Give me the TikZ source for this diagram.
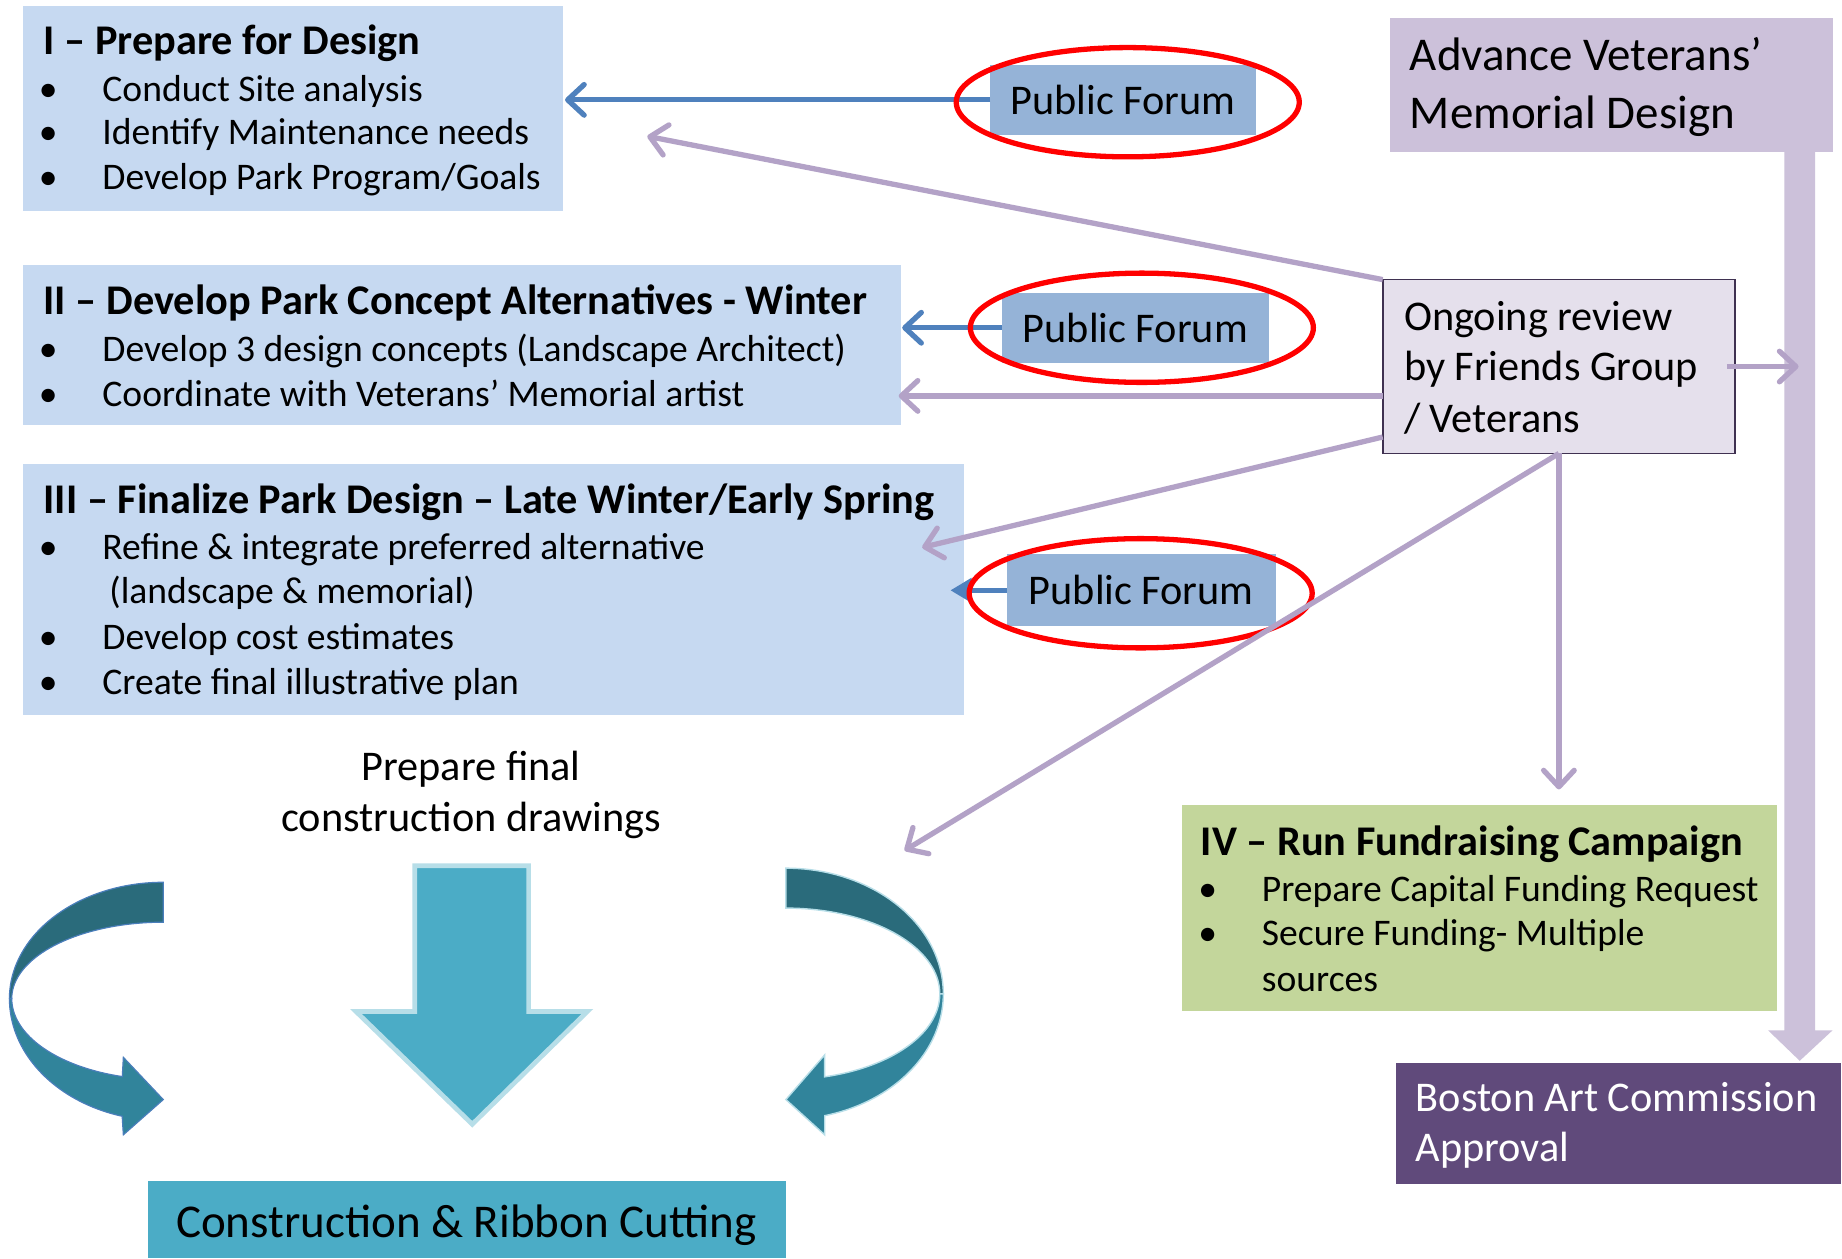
\documentclass[tikz,border=0pt]{standalone}
\usepackage{fontspec}
\setmainfont{Carlito}
\usetikzlibrary{arrows.meta,shapes.geometric,calc}
\definecolor{boxblue}{HTML}{C6D9F1}
\definecolor{pfblue}{HTML}{95B3D7}
\definecolor{lineblue}{HTML}{4F81BD}
\definecolor{lavender}{HTML}{CCC1DA}
\definecolor{lilac}{HTML}{E5E0EC}
\definecolor{lilacborder}{HTML}{3F3151}
\definecolor{purpline}{HTML}{B3A2C7}
\definecolor{greenbox}{HTML}{C3D69B}
\definecolor{bacpurple}{HTML}{604A7B}
\definecolor{cteal}{HTML}{4BACC6}
\definecolor{ctealborder}{HTML}{B7DEE8}
\definecolor{ctealdark}{HTML}{2A6B7B}
\definecolor{ctealmid}{HTML}{31849B}
\definecolor{leftoutline}{HTML}{4A7EBB}
\begin{document}
\begin{tikzpicture}[x=1pt,y=-1pt,
  box/.style={rectangle,inner sep=0pt,outer sep=0pt,anchor=north west},
  ttl/.style={anchor=base west,inner sep=0pt,font=\fontsize{36}{43}\selectfont\bfseries},
  txt/.style={anchor=base west,inner sep=0pt,font=\fontsize{32}{38}\selectfont},
  bul/.style={anchor=base,inner sep=0pt,font=\fontsize{32}{38}\selectfont},
  big/.style={anchor=base west,inner sep=0pt,font=\fontsize{36}{43}\selectfont},
  huge/.style={anchor=base west,inner sep=0pt,font=\fontsize{40}{48}\selectfont},
  ring/.style={ellipse,draw=red,line width=4.5pt,minimum width=292pt,minimum height=93pt,inner sep=0pt},
  pf/.style={box,fill=pfblue,font=\fontsize{36}{43}\selectfont,align=center},
  fb/.style={line width=4.5pt,draw=purpline,-{Straight Barb[length=14pt,width=26pt,round]}},
  bl/.style={line width=4.5pt,draw=lineblue,-{Straight Barb[length=14pt,width=26pt,round]}},
]
\useasboundingbox (0,0) rectangle (1568,1071);
\fill[white] (0,0) rectangle (1568,1071);

% ---------- boxes ----------
\node[box,fill=boxblue,minimum width=459pt,minimum height=175pt] (B1) at (20,5) {};
\node[box,fill=boxblue,minimum width=747pt,minimum height=136pt] (B2) at (20,226) {};
\node[box,fill=boxblue,minimum width=801pt,minimum height=214pt] (B3) at (20,395) {};
\node[box,fill=lavender,minimum width=377pt,minimum height=114pt] (AV) at (1183,15) {};
\node[box,fill=lilac,draw=lilacborder,line width=1.5pt,minimum width=300pt,minimum height=148pt] (OG) at (1177,238) {};
\node[box,fill=greenbox,minimum width=507pt,minimum height=176pt] (B4) at (1006,685) {};
\node[box,fill=bacpurple,minimum width=379pt,minimum height=103pt] (BAC) at (1188,905) {};
\node[box,fill=cteal,minimum width=543pt,minimum height=66pt] (CR) at (126,1005) {};
\node[pf,minimum width=226pt,minimum height=60pt] (PF1) at (843,55) {Public Forum};
\node[pf,minimum width=227pt,minimum height=60pt] (PF2) at (853,249) {Public Forum};
\node[pf,minimum width=229pt,minimum height=61pt] (PF3) at (857,472) {Public Forum};

% ---------- thick bar from Advance box to BAC ----------
\coordinate (bt) at ([xshift=-28pt]AV.south east);
\coordinate (bb) at (bt |- BAC.north);
\fill[lavender] ($(bt)+(-13,0)$) -- ($(bt)+(13,0)$) -- ($(bb)+(13,-28)$) -- ($(bb)+(28,-28)$)
  -- ($(bb)+(0,-2)$) -- ($(bb)+(-27,-28)$) -- ($(bb)+(-13,-28)$) -- cycle;

% ---------- blue connectors from public forums ----------
\coordinate (e1) at (PF1.west -| B1.east);
\draw[bl] (PF1.west) -- ([xshift=2pt]e1);
\coordinate (e2b) at (PF2.west -| B2.east);
\draw[bl] (PF2.west) -- ([xshift=1pt]e2b);
\coordinate (e3b) at (PF3.west -| B3.east);
\draw[line width=4.5pt,draw=lineblue,-{Triangle[length=18pt,width=20pt]}] (PF3.west) -- ([xshift=-12pt]e3b);

% ---------- red rings ----------
\node[ring] (R1) at (960,87) {};
\node[ring] (R2) at (972,279) {};
\node[ring] (R3) at (971,505) {};

% ---------- purple connectors from ongoing review ----------
\coordinate (t1) at (551,116);
\draw[fb] (OG.north west) -- (t1);
\coordinate (s2) at ([yshift=-25pt]OG.west);
\coordinate (e2) at (s2 -| B2.east);
\draw[fb] (s2) -- ([xshift=-2pt]e2);
\coordinate (s3) at ([yshift=-60pt]OG.west);
\coordinate (t3) at (785,466);
\draw[fb] (s3) -- (t3);
\coordinate (t4) at (770,724);
\draw[fb] (OG.south) -- (t4);
\coordinate (e5) at (OG.south |- B4.north);
\draw[fb] (OG.south) -- ([yshift=13pt]e5);
\coordinate (e6) at (bt |- OG.east);
\draw[fb] ([xshift=-7pt]OG.east) -- ([xshift=-1pt]e6);

% ---------- texts ----------
\node[ttl] (h1) at (37,46) {I – Prepare for Design};
\node[bul] (d11) at (41,86) {•};  \node[txt] (l11) at (87,86) {Conduct Site analysis};
\node[bul] (d12) at (41,123) {•}; \node[txt] (l12) at (87,123) {Identify Maintenance needs};
\node[bul] (d13) at (41,161) {•}; \node[txt] (l13) at (87,161) {Develop Park Program/Goals};

\node[ttl] (h2) at (37,268) {II – Develop Park Concept Alternatives - Winter};
\node[bul] (d21) at (41,308) {•}; \node[txt] (l21) at (87,308) {Develop 3 design concepts (Landscape Architect)};
\node[bul] (d22) at (41,346) {•}; \node[txt] (l22) at (87,346) {Coordinate with Veterans’ Memorial artist};

\node[ttl] (h3) at (37,437) {III – Finalize Park Design – Late Winter/Early Spring};
\node[bul] (d31) at (41,476) {•}; \node[txt] (l31) at (87,476) {Refine \& integrate preferred alternative};
\node[txt] (l32) at (93,514) {(landscape \& memorial)};
\node[bul] (d33) at (41,553) {•}; \node[txt] (l33) at (87,553) {Develop cost estimates};
\node[bul] (d34) at (41,591) {•}; \node[txt] (l34) at (87,591) {Create final illustrative plan};

\node[ttl] (h4) at (1022,728) {IV – Run Fundraising Campaign};
\node[bul] (d41) at (1028,767) {•}; \node[txt] (l41) at (1074,767) {Prepare Capital Funding Request};
\node[bul] (d42) at (1028,805) {•}; \node[txt] (l42) at (1074,805) {Secure Funding- Multiple};
\node[txt] (l43) at (1074,844) {sources};

\node[huge] (a1) at (1200,60) {Advance Veterans’};
\node[huge] (a2) at (1200,109) {Memorial Design};

\node[big] (o1) at (1195,281) {Ongoing review};
\node[big] (o2) at (1195,324) {by Friends Group};
\node[big] (o3) at (1195,368) {/ Veterans};

\node[big,text=white] (c1) at (1205,946) {Boston Art Commission};
\node[big,text=white] (c2) at (1205,989) {Approval};

\node[big,anchor=base] (p1) at (401,664) {Prepare final};
\node[big,anchor=base] (p2) at (401,708) {construction drawings};

\node[huge,anchor=base] (cr) at (397,1053) {Construction \& Ribbon Cutting};

% ---------- big down arrow ----------
\filldraw[fill=cteal,draw=ctealborder,line width=4pt,line join=miter]
  (353,737) -- (450,737) -- (450,861) -- (500,861) -- (402,957) -- (303,861) -- (353,861) -- cycle;

% ---------- left curved arrow ----------
\filldraw[fill=ctealdark,draw=leftoutline,line width=1pt]
  plot[domain=270:180,samples=40,variable=\t] ({139+131*cos(\t)},{850+99*sin(\t)})
  -- plot[domain=180:270,samples=40,variable=\t] ({139+129*cos(\t)},{850+65*sin(\t)}) -- cycle;
\filldraw[fill=ctealmid,draw=leftoutline,line width=1pt]
  plot[domain=180:105.5,samples=40,variable=\t] ({139+131*cos(\t)},{850+104*sin(\t)})
  -- (105,966) -- (139,936) -- (105,900)
  -- plot[domain=105.7:180,samples=40,variable=\t] ({139+129*cos(\t)},{850+69*sin(\t)}) -- cycle;

% ---------- right curved arrow ----------
\filldraw[fill=ctealdark,draw=ctealborder,line width=1.2pt]
  plot[domain=270:360,samples=40,variable=\t] ({669+134*cos(\t)},{846+107*sin(\t)})
  -- plot[domain=360:270,samples=40,variable=\t] ({669+131*cos(\t)},{846+73*sin(\t)}) -- cycle;
\filldraw[fill=ctealmid,draw=ctealborder,line width=1.2pt]
  plot[domain=0:75.7,samples=40,variable=\t] ({669+134*cos(\t)},{846+107*sin(\t)})
  -- (702,966) -- (669,936) -- (702,898)
  -- plot[domain=75.4:0,samples=40,variable=\t] ({669+131*cos(\t)},{846+73*sin(\t)}) -- cycle;
\end{tikzpicture}
\end{document}
